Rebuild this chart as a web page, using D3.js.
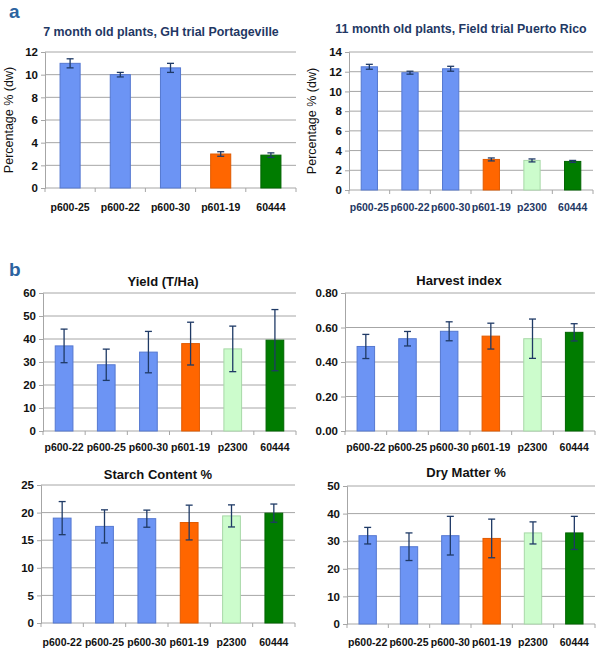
<!DOCTYPE html>
<html><head><meta charset="utf-8">
<script src="https://cdn.jsdelivr.net/npm/d3@7"></script>
<style>body{margin:0;background:#fff;} svg{display:block;font-family:"Liberation Sans",Arial,sans-serif;}</style>
</head><body>
<svg id="c" width="603" height="651"></svg>
<script>
// ---- data ----
const catsA1 = ["p600-25","p600-22","p600-30","p601-19","60444"];
const valsA1 = [11.0,10.0,10.6,3.0,2.9];
const errA1  = [0.4,0.2,0.4,0.2,0.2];
const colA1  = ["blue","blue","blue","orange","dkgreen"];
const ticksA1 = [0,2,4,6,8,10,12];

const catsA2 = ["p600-25","p600-22","p600-30","p601-19","p2300","60444"];
const valsA2 = [12.5,11.9,12.3,3.1,3.0,2.9];
const errA2  = [0.25,0.15,0.25,0.15,0.15,0.1];
const colA2  = ["blue","blue","blue","orange","ltgreen","dkgreen"];
const ticksA2 = [0,2,4,6,8,10,12,14];

const catsB = ["p600-22","p600-25","p600-30","p601-19","p2300","60444"];
const colB  = ["blue","blue","blue","orange","ltgreen","dkgreen"];
const yieldVals = [37.0,28.8,34.3,38.0,35.7,39.5];
const yieldErr  = [7.3,6.8,9.0,9.3,9.9,13.3];
const yieldTicks = [0,10,20,30,40,50,60];
const hiVals = [0.49,0.535,0.578,0.55,0.535,0.572];
const hiErr  = [0.07,0.042,0.055,0.075,0.114,0.05];
const hiTicks = [0,0.2,0.4,0.6,0.8];
const starchVals = [19.0,17.5,18.9,18.2,19.4,19.9];
const starchErr  = [3.0,3.0,1.55,3.15,2.0,1.65];
const starchTicks = [0,5,10,15,20,25];
const dmVals = [32,28,32,31,33,33];
const dmErr  = [3,5,7,7,4,6];
const dmTicks = [0,10,20,30,40,50];

const fills = {blue:"#6c94f4", orange:"#ff6600", ltgreen:"#ccfccc", dkgreen:"#007c00"};
const strokes = {blue:"#5578d0", orange:"#e05a00", ltgreen:"#a8d8a8", dkgreen:"#006400"};

const svg = d3.select("#c");

function chart(o){
  const g = svg.append("g");
  const x = d3.scaleBand().domain(o.cats).range([o.x0,o.x1]);
  const y = d3.scaleLinear().domain([0,o.ticks[o.ticks.length-1]]).range([o.y0,o.y1]);
  g.selectAll(".grid").data(o.ticks.slice(1)).join("line")
    .attr("x1",o.x0).attr("x2",o.x1).attr("y1",d=>y(d)).attr("y2",d=>y(d))
    .attr("stroke","#a6a6a6").attr("stroke-width",1);
  const ya = d3.axisLeft(y).tickValues(o.ticks).tickSize(4).tickFormat(o.fmt||d3.format("d"));
  const yg = g.append("g").attr("transform",`translate(${o.x0},0)`).call(ya);
  yg.select(".domain").attr("stroke","#a6a6a6");
  yg.selectAll(".tick line").attr("stroke","#a6a6a6");
  yg.selectAll(".tick text").attr("font-size",o.tfs||11.5).attr("font-weight","bold").attr("fill","#111").attr("x",-7)
    .attr("font-family","Liberation Sans, Arial, sans-serif");
  g.append("line").attr("x1",o.x0).attr("x2",o.x1).attr("y1",o.y0).attr("y2",o.y0).attr("stroke","#a6a6a6");
  const bw = x.bandwidth();
  g.selectAll(".xt").data(d3.range(o.cats.length+1)).join("line")
    .attr("x1",i=>o.x0+i*bw).attr("x2",i=>o.x0+i*bw).attr("y1",o.y0).attr("y2",o.y0+4).attr("stroke","#a6a6a6");
  const w = bw*o.bwf;
  g.selectAll(".bar").data(o.vals).join("rect")
    .attr("x",(d,i)=>x(o.cats[i])+bw/2-w/2).attr("width",w)
    .attr("y",d=>y(d)).attr("height",d=>o.y0-y(d))
    .attr("fill",(d,i)=>fills[o.cols[i]]).attr("stroke",(d,i)=>strokes[o.cols[i]]).attr("stroke-width",1);
  const cap = o.cap||3.5;
  o.vals.forEach((v,i)=>{
    const cx = x(o.cats[i])+bw/2, lo=y(v-o.err[i]), hi=y(v+o.err[i]);
    g.append("line").attr("x1",cx).attr("x2",cx).attr("y1",lo).attr("y2",hi).attr("stroke","#1f3a66").attr("stroke-width",1.3);
    [lo,hi].forEach(yy=>g.append("line").attr("x1",cx-cap).attr("x2",cx+cap).attr("y1",yy).attr("y2",yy).attr("stroke","#1f3a66").attr("stroke-width",1.3));
  });
  g.selectAll(".xl").data(o.cats).join("text")
    .attr("x",d=>x(d)+bw/2).attr("y",o.xly).attr("text-anchor","middle")
    .attr("font-size",o.xfs||10.5).attr("font-weight","bold").attr("fill",o.xlc||"#111").text(d=>d);
  g.append("text").attr("x",o.tx).attr("y",o.ty).attr("text-anchor","middle")
    .attr("font-size",o.tsz).attr("font-weight","bold").attr("fill",o.tc).text(o.title);
  if(o.ylab){
    g.append("text").attr("transform",`translate(${o.ylx},${(o.y0+o.y1)/2}) rotate(-90)`)
      .attr("text-anchor","middle").attr("font-size",12.5).attr("fill","#111").text(o.ylab);
  }
}

svg.append("text").attr("x",9).attr("y",18).attr("font-size",19).attr("font-weight","bold").attr("fill","#2b63a0").text("a");
svg.append("text").attr("x",9).attr("y",276).attr("font-size",19).attr("font-weight","bold").attr("fill","#2b63a0").text("b");

chart({cats:catsA1,vals:valsA1,err:errA1,cols:colA1,ticks:ticksA1,x0:45,x1:296,y0:188,y1:52,bwf:0.4,
  xly:211,xlc:"#111",title:"7 month old plants, GH trial Portageville",tx:161,ty:36,tsz:12.4,tc:"#1f3864",
  ylab:"Percentage % (dw)",ylx:13});
chart({cats:catsA2,vals:valsA2,err:errA2,cols:colA2,ticks:ticksA2,x0:349,x1:593,y0:190,y1:52,bwf:0.4,
  xly:211,xlc:"#1f3864",title:"11 month old plants, Field trial Puerto Rico",tx:461,ty:33,tsz:12.4,tc:"#1f3864",
  ylab:"Percentage % (dw)",ylx:316});
chart({cats:catsB,vals:yieldVals,err:yieldErr,cols:colB,ticks:yieldTicks,x0:43,x1:296,y0:431,y1:293,bwf:0.42,
  xly:451,title:"Yield (T/Ha)",tx:163,ty:286,tsz:13,tc:"#111"});
chart({cats:catsB,vals:hiVals,err:hiErr,cols:colB,ticks:hiTicks,x0:345,x1:595,y0:431,y1:293,bwf:0.42,
  xly:451,title:"Harvest index",tx:459,ty:285,tsz:13,tc:"#111",fmt:d3.format(".2f")});
chart({cats:catsB,vals:starchVals,err:starchErr,cols:colB,ticks:starchTicks,x0:41,x1:295,y0:623,y1:485,bwf:0.42,
  xly:646,title:"Starch Content %",tx:158,ty:479,tsz:13,tc:"#111"});
chart({cats:catsB,vals:dmVals,err:dmErr,cols:colB,ticks:dmTicks,x0:347,x1:595,y0:624,y1:486,bwf:0.42,
  xly:646,title:"Dry Matter %",tx:466,ty:477,tsz:13,tc:"#111"});
</script>
</body></html>
